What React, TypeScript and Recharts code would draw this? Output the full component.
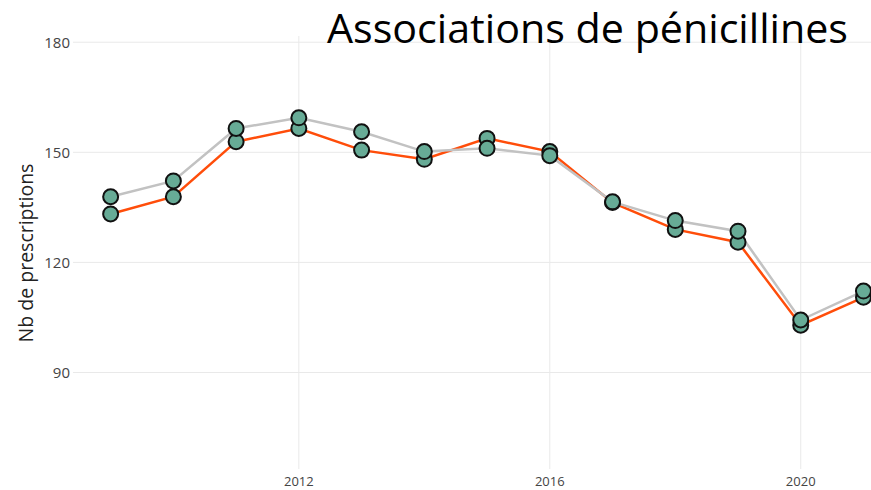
import React from "react";
import {
  LineChart,
  Line,
  XAxis,
  YAxis,
  CartesianGrid,
} from "recharts";

// yearly prescription counts
const years = [2009, 2010, 2011, 2012, 2013, 2014, 2015, 2016, 2017, 2018, 2019, 2020, 2021];
const orangeSeries = [133.2, 137.9, 152.9, 156.5, 150.6, 148.1, 153.8, 150.2, 136.3, 129.0, 125.5, 102.9, 110.5];
const graySeries = [137.9, 142.2, 156.5, 159.4, 155.6, 150.2, 151.1, 149.1, 136.5, 131.4, 128.5, 104.3, 112.2];
const xTicks = [2012, 2016, 2020];
const yTicks = [90, 120, 150, 180];

const TITLE = "Associations de pénicillines";
const Y_LABEL = "Nb de prescriptions";

const W = 871;
const H = 490;
const FONT = "'Open Sans', sans-serif";

const dot = { r: 7.5, fill: "#67ab96", stroke: "#111", strokeWidth: 2 };

export default function App() {
  const data = years.map((year, i) => ({
    year,
    orange: orangeSeries[i],
    gray: graySeries[i],
  }));

  return (
    <div
      style={{
        position: "absolute",
        left: 0,
        top: 0,
        width: W,
        height: H,
        overflow: "hidden",
        background: "#fff",
        fontFamily: FONT,
      }}
    >
      <LineChart
        width={W}
        height={H}
        data={data}
        margin={{ top: 36, right: 0, bottom: 0, left: 0 }}
      >
        <CartesianGrid
          stroke="#e9e9e9"
          strokeWidth={1}
          horizontalValues={yTicks}
          verticalValues={xTicks}
        />
        <XAxis
          dataKey="year"
          type="number"
          domain={[2008.4, 2021.12]}
          ticks={xTicks}
          allowDataOverflow
          axisLine={false}
          tickLine={false}
          height={21}
          tick={{ fontSize: 13, fill: "#444", fontFamily: FONT }}
        />
        <YAxis
          type="number"
          domain={[63.7, 181.7]}
          ticks={yTicks}
          allowDataOverflow
          axisLine={false}
          tickLine={false}
          tickSize={0}
          tickMargin={3}
          width={73}
          tick={{ fontSize: 15, fill: "#444", fontFamily: FONT }}
        />
        <Line
          dataKey="orange"
          stroke="#ff4d0a"
          strokeWidth={2.5}
          dot={dot}
          activeDot={false}
          isAnimationActive={false}
        />
        <Line
          dataKey="gray"
          stroke="#c2c2c2"
          strokeWidth={2.5}
          dot={dot}
          activeDot={false}
          isAnimationActive={false}
        />
      </LineChart>
      <svg
        width={W}
        height={H}
        style={{ position: "absolute", left: 0, top: 0, pointerEvents: "none" }}
      >
        <rect x={322} y={0} width={528} height={40} fill="#fff" />
        <text
          x={327}
          y={43}
          fontSize={40}
          fill="#000"
          fontFamily={FONT}
          textLength={521}
          lengthAdjust="spacingAndGlyphs"
        >
          {TITLE}
        </text>
        <text
          transform="translate(33,253) rotate(-90)"
          textAnchor="middle"
          fontSize={19.5}
          fill="#222"
          fontFamily={FONT}
        >
          {Y_LABEL}
        </text>
      </svg>
    </div>
  );
}
